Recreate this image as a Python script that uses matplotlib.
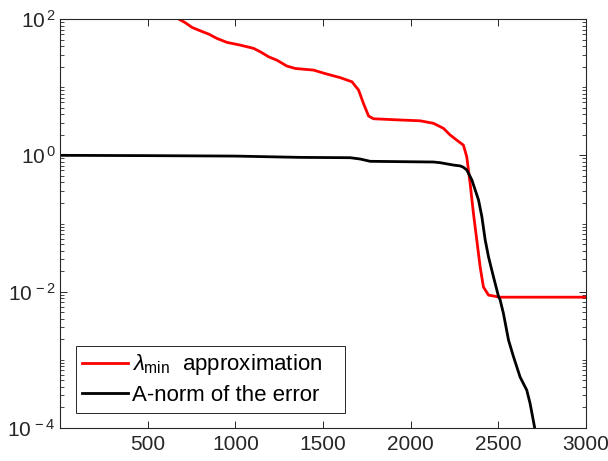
import numpy as np
import matplotlib
matplotlib.use("Agg")
import matplotlib.pyplot as plt
from matplotlib.ticker import FixedLocator, LogLocator, NullFormatter

plt.rcParams['font.family'] = ['Liberation Sans', 'DejaVu Sans']
plt.rcParams['mathtext.fontset'] = 'custom'
plt.rcParams['mathtext.rm'] = 'Liberation Sans'
plt.rcParams['mathtext.it'] = 'Liberation Sans:italic'

# red: lambda_min approximation
red_x = [665, 715, 753, 800, 848, 895, 952, 1028, 1104, 1142, 1190, 1237, 1294, 1342,
         1446, 1513, 1598, 1665, 1703, 1731, 1760, 1788, 1940, 2054, 2130, 2187, 2225,
         2263, 2301, 2320, 2339, 2358, 2377, 2396, 2415, 2444, 2510, 3000]
red_y = [104, 88.1, 75.3, 67.1, 60.1, 51.9, 45.4, 41.4, 37.1, 33.1, 27.9, 24.9, 20.4, 18.8,
         17.8, 15.8, 13.8, 12.0, 9.06, 5.75, 3.77, 3.44, 3.30, 3.21, 2.95, 2.49, 1.99,
         1.67, 1.41, 0.95, 0.39, 0.141, 0.0575, 0.0234, 0.0117, 0.0089, 0.0083, 0.0083]

# black: A-norm of the error
blk_x = [0, 500, 1000, 1370, 1655, 1712, 1769, 2130, 2168, 2244, 2282, 2300, 2320, 2349,
         2387, 2406, 2425, 2444, 2472, 2482, 2501, 2510, 2529, 2558, 2586, 2624, 2662,
         2681, 2706, 2715]
blk_y = [1.0, 0.99, 0.975, 0.933, 0.923, 0.883, 0.817, 0.798, 0.78, 0.72, 0.70, 0.67, 0.61,
         0.436, 0.221, 0.126, 0.0575, 0.0324, 0.0166, 0.0132, 0.0085, 0.0076, 0.0048,
         0.00195, 0.00112, 0.00056, 0.00036, 0.00023, 0.000105, 0.00007]

labels = [r'$\lambda_{\rm min}$  approximation   ', 'A-norm of the error   ']
xticks = [500, 1000, 1500, 2000, 2500, 3000]
yticks = [1e-4, 1e-2, 1e0, 1e2]
ytick_labels = [r'$10^{\,-4}$', r'$10^{\,-2}$', r'$10^{\,0}$', r'$10^{\,2}$']

gray = '#262626'
fig = plt.figure(figsize=(6.08, 4.61), dpi=100)
ax = fig.add_axes([60/608, 33/461, 526/608, 409/461])
ax.plot(red_x, red_y, color='#ff0000', lw=2, label=labels[0])
ax.plot(blk_x, blk_y, color='black', lw=2, label=labels[1])
ax.set_yscale('log')
ax.set_xlim(0, 3000)
ax.set_ylim(1e-4, 1e2)
ax.set_xticks(xticks)
ax.set_xticklabels([str(v) for v in xticks])
ax.yaxis.set_major_locator(FixedLocator(yticks))
ax.set_yticklabels(ytick_labels)
ax.yaxis.set_minor_locator(LogLocator(base=10, subs=np.arange(1, 10), numticks=20))
ax.yaxis.set_minor_formatter(NullFormatter())
ax.tick_params(which='both', direction='in', top=True, right=True, colors=gray,
               labelsize=15, labelcolor=gray)
ax.tick_params(which='major', length=5, width=0.7)
ax.tick_params(which='minor', length=3, width=0.6)
ax.tick_params(axis='x', pad=5)
ax.tick_params(axis='y', pad=3)
for s in ax.spines.values():
    s.set_color(gray)
    s.set_linewidth(0.8)
leg = ax.legend(loc='lower left', bbox_to_anchor=(0.030, 0.037), fontsize=16,
                frameon=True, fancybox=False, framealpha=1, edgecolor=gray,
                handlelength=2.05, handletextpad=0.2, borderaxespad=0, labelspacing=0.35,
                borderpad=0.3)
leg.get_frame().set_linewidth(0.7)
fig.savefig('out.png', dpi=100)
